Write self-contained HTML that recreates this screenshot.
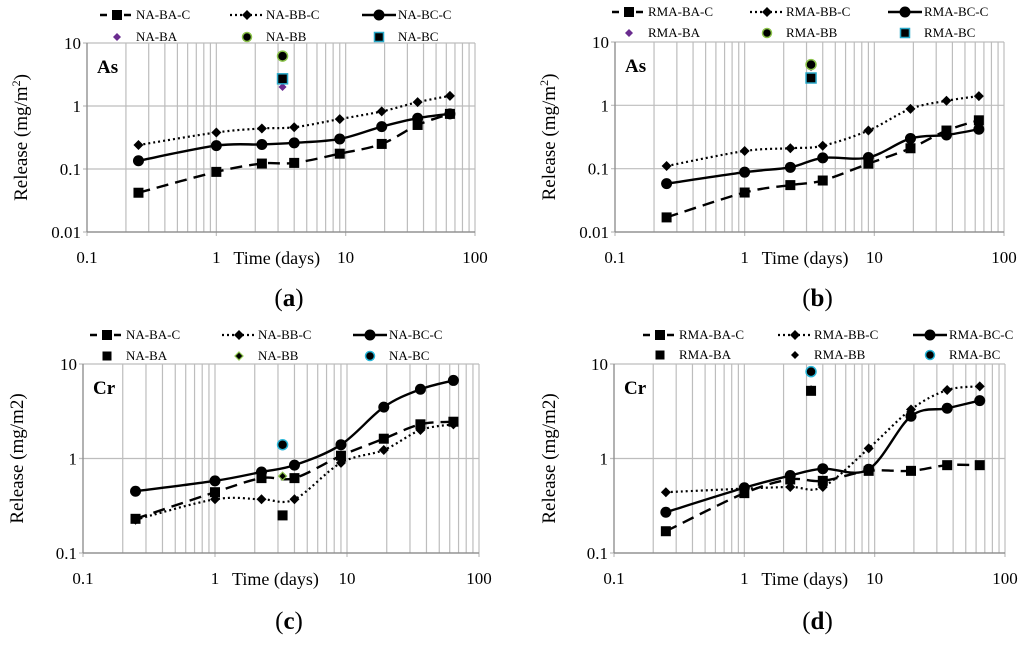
<!DOCTYPE html>
<html><head><meta charset="utf-8"><style>
body{margin:0;background:#fff;width:1024px;height:646px;overflow:hidden}
svg{display:block;font-family:"Liberation Serif",serif}
</style></head><body>
<svg id="fig" width="1024" height="646"></svg>
<script>
const times=[0.25,1,2.25,4,9,19,36,64];
const singleTime=3.25;
const yTicksAs=[0.01,0.1,1,10];
const yTicksCr=[0.1,1,10];
const xTicks=[0.1,1,10,100];
// panel a
const aBA=[0.042,0.09,0.122,0.125,0.175,0.25,0.5,0.75];
const aBB=[0.24,0.38,0.44,0.46,0.62,0.82,1.15,1.45];
const aBC=[0.135,0.235,0.245,0.26,0.3,0.47,0.64,0.75];
const aSingles=[2.0,6.2,2.7];
// panel b
const bBA=[0.017,0.042,0.055,0.065,0.12,0.21,0.4,0.58];
const bBB=[0.11,0.19,0.21,0.23,0.4,0.88,1.18,1.4];
const bBC=[0.058,0.088,0.105,0.148,0.15,0.3,0.34,0.42];
const bSingles=[4.0,4.4,2.7];
// panel c
const cBA=[0.23,0.44,0.62,0.62,1.07,1.62,2.3,2.45];
const cBB=[0.225,0.37,0.37,0.37,0.9,1.23,2.0,2.3];
const cBC=[0.45,0.58,0.72,0.85,1.4,3.5,5.4,6.7];
const cSingles=[0.25,0.65,1.4];
// panel d
const dBA=[0.17,0.43,0.6,0.58,0.74,0.74,0.85,0.85];
const dBB=[0.44,0.48,0.5,0.5,1.28,3.3,5.3,5.8];
const dBC=[0.27,0.49,0.66,0.78,0.77,2.8,3.4,4.1];
const dSingles=[5.2,5.4,8.3];

const NS="http://www.w3.org/2000/svg";
const svg=document.getElementById('fig');
function el(tag,attrs,parent,txt){const e=document.createElementNS(NS,tag);for(const k in attrs)e.setAttribute(k,attrs[k]);if(txt!==undefined)e.textContent=txt;(parent||svg).appendChild(e);return e;}

function marker(g,kind,x,y,size,fill,stroke){
  let m;
  if(kind==='sq'){m=el('rect',{x:x-size,y:y-size,width:2*size,height:2*size,fill:fill,stroke:stroke||'none','stroke-width':1.5},g);}
  else if(kind==='di'){m=el('path',{d:`M${x},${y-size}L${x+size},${y}L${x},${y+size}L${x-size},${y}Z`,fill:fill,stroke:stroke||'none','stroke-width':1.2},g);}
  else {m=el('circle',{cx:x,cy:y,r:size,fill:fill,stroke:stroke||'none','stroke-width':1.5},g);}
  return m;
}
function smoothPath(pts){
  let d=`M${pts[0][0]},${pts[0][1]}`;
  for(let i=0;i<pts.length-1;i++){
    const p0=pts[Math.max(0,i-1)],p1=pts[i],p2=pts[i+1],p3=pts[Math.min(pts.length-1,i+2)];
    const t=1/6;
    d+=`C${p1[0]+(p2[0]-p0[0])*t},${p1[1]+(p2[1]-p0[1])*t} ${p2[0]-(p3[0]-p1[0])*t},${p2[1]-(p3[1]-p1[1])*t} ${p2[0]},${p2[1]}`;
  }
  return d;
}

function panel(cfg){
  const g=el('g',{});
  
  
  const {x0,x1,y0,y1,ymin,ymax}=cfg;
  const X=v=>x0+(Math.log10(v)-(-1))/3*(x1-x0);
  const ld=Math.log10(ymax)-Math.log10(ymin);
  const Y=v=>y1-(Math.log10(v)-Math.log10(ymin))/ld*(y1-y0);
  const grid=el('g',{stroke:'#bdbdbd','stroke-width':1.2},g);
  
  
  for(let dec=-1;dec<2;dec++)for(let k=2;k<=9;k++){const xx=X(k*Math.pow(10,dec));el('line',{x1:xx,x2:xx,y1:y0,y2:y1},grid);}
  for(const t of xTicks){const xx=X(t);el('line',{x1:xx,x2:xx,y1:y0,y2:y1+4},grid);}
  for(const t of cfg.yTicks){const yy=Y(t);el('line',{x1:x0-4,x2:x1,y1:yy,y2:yy},grid);}
  el('line',{x1:x0,x2:x0,y1:y0,y2:y1,stroke:'#888','stroke-width':1.2},g);
  el('line',{x1:x0,x2:x1,y1:y1,y2:y1,stroke:'#888','stroke-width':1.2},g);
  for(const t of cfg.yTicks){const tl=el('text',{x:x0-6,y:Y(t)+6,'text-anchor':'end','font-size':17},g,String(t));
    }
  for(const t of xTicks){const tl=el('text',{x:X(t),y:y1+31,'text-anchor':'middle','font-size':17},g,String(t));
    }
  const xt=el('text',{x:X(1)+17,y:y1+32,'font-size':18},g,'Time (days)');
  
  const yt=el('text',{x:0,y:0,'text-anchor':'middle','font-size':19,transform:`translate(${cfg.ytx},${(y0+y1)/2}) rotate(-90)`},g);
  
  if(cfg.sup){yt.textContent='Release (mg/m';el('tspan',{'font-size':12,dy:-7},yt,'2');el('tspan',{dy:7},yt,')');}
  else yt.textContent='Release (mg/m2)';
  const el2=el('text',{x:x0+10,y:y0+30,'font-size':19,'font-weight':'bold'},g,cfg.elem);
  
  const cap=el('text',{x:(x0+x1)/2+8,y:cfg.capY,'text-anchor':'middle','font-size':25},g);
  
  cap.textContent='(';el('tspan',{'font-weight':'bold'},cap,cfg.id);el('tspan',{},cap,')');
  // series
  const series=[{d:cfg.BA,dash:'12,7',m:'sq',s:5,w:2.4},{d:cfg.BB,dash:'2,3',m:'di',s:5,w:2.2},{d:cfg.BC,dash:'',m:'ci',s:5.5,w:2.4}];
  series.forEach((s,i)=>{
    const sg=el('g',{},g);
    
    
    const pts=times.map((t,j)=>[X(t),Y(s.d[j])]);
    const ln=el('path',{d:smoothPath(pts),fill:'none',stroke:'#000','stroke-width':s.w,'stroke-dasharray':s.dash},sg);
    
    pts.forEach(p=>{const m=marker(sg,s.m,p[0],p[1],s.s,'#000');});
  });
  cfg.singles.forEach((v,i)=>{
    const st=cfg.singleStyles[i];
    const m=marker(g,st[0],X(singleTime),Y(v),st[1],st[2],st[3]);
    
  });
  // legend
  const lg=el('g',{'font-size':13},g);
  
  
  series.forEach((s,i)=>{
    const lx=cfg.lx[i];
    const e=el('g',{},lg);
    
    el('line',{x1:lx,x2:lx+34,y1:cfg.ly1,y2:cfg.ly1,stroke:'#000','stroke-width':s.w,'stroke-dasharray':s.dash==='12,7'?'7,5':s.dash},e);
    marker(e,s.m,lx+17,cfg.ly1,s.s,'#000');
    el('text',{x:lx+36,y:cfg.ly1+4},e,cfg.names[i]);
    const e2=el('g',{},lg);
    
    const st=cfg.singleStyles[i];
    marker(e2,st[0],lx+17,cfg.ly2,Math.min(st[1],4.5),st[2],st[3]);
    el('text',{x:lx+36,y:cfg.ly2+4},e2,cfg.snames[i]);
  });
}
const stA=[['di',4,'#6a2c8f'],['ci',5,'#000','#8bc34a'],['sq',5,'#000','#29a8c8']];
const stC=[['sq',5,'#000'],['di',4,'#000','#8bc34a'],['ci',5,'#000','#29b6d8']];
panel({id:'a',x0:87,x1:475,y0:43,y1:232,ymin:0.01,ymax:10,yTicks:yTicksAs,ytx:27,sup:true,elem:'As',capY:306,
  BA:aBA,BB:aBB,BC:aBC,singles:aSingles,singleStyles:stA,names:['NA-BA-C','NA-BB-C','NA-BC-C'],snames:['NA-BA','NA-BB','NA-BC'],lx:[100,230,362],ly1:15,ly2:37});
panel({id:'b',x0:615,x1:1004,y0:42,y1:232,ymin:0.01,ymax:10,yTicks:yTicksAs,ytx:555,sup:true,elem:'As',capY:306,
  BA:bBA,BB:bBB,BC:bBC,singles:bSingles,singleStyles:stA,names:['RMA-BA-C','RMA-BB-C','RMA-BC-C'],snames:['RMA-BA','RMA-BB','RMA-BC'],lx:[612,750,888],ly1:12,ly2:33});
panel({id:'c',x0:83,x1:479,y0:364,y1:553,ymin:0.1,ymax:10,yTicks:yTicksCr,ytx:23,sup:false,elem:'Cr',capY:629,
  BA:cBA,BB:cBB,BC:cBC,singles:cSingles,singleStyles:stC,names:['NA-BA-C','NA-BB-C','NA-BC-C'],snames:['NA-BA','NA-BB','NA-BC'],lx:[90,222,353],ly1:335,ly2:356});
panel({id:'d',x0:614,x1:1005,y0:364,y1:553,ymin:0.1,ymax:10,yTicks:yTicksCr,ytx:555,sup:false,elem:'Cr',capY:629,
  BA:dBA,BB:dBB,BC:dBC,singles:dSingles,singleStyles:[['sq',5,'#000'],['di',4,'#000'],['ci',5,'#000','#29b6d8']],names:['RMA-BA-C','RMA-BB-C','RMA-BC-C'],snames:['RMA-BA','RMA-BB','RMA-BC'],lx:[643,778,913],ly1:335,ly2:355});
</script>
</body></html>
